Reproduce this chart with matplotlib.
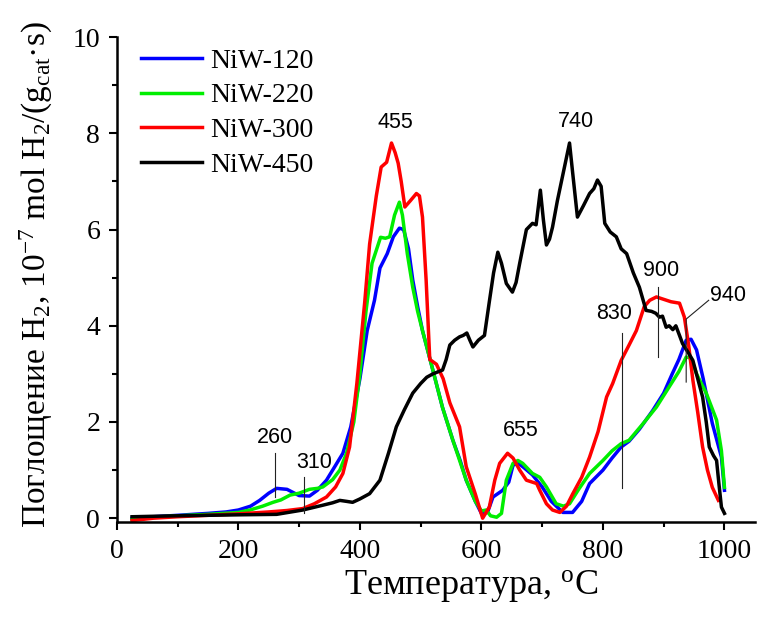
import matplotlib
matplotlib.use('Agg')
from matplotlib import pyplot as plt
from matplotlib.ticker import MultipleLocator

plt.rcParams['font.family'] = ['Liberation Serif', 'DejaVu Serif']
plt.rcParams['mathtext.fontset'] = 'custom'
plt.rcParams['mathtext.rm'] = 'Liberation Serif'
plt.rcParams['mathtext.it'] = 'Liberation Serif:italic'

# NiW-120
t_120 = [25, 60, 100, 150, 180, 200, 220, 235, 250, 263, 280, 300, 317, 330, 345, 360, 372, 385,
         400, 412, 424, 433, 445, 455, 465, 472, 480, 487, 495, 503, 518, 536, 553, 565, 575, 590,
         600, 610, 619, 635, 645, 652, 660, 670, 684, 700, 715, 734, 750, 765, 778, 800, 815, 830,
         843, 860, 882, 900, 914, 925, 937, 945, 954, 965, 980, 995, 1000]
v_120 = [0.0, 0.03, 0.06, 0.1, 0.13, 0.17, 0.25, 0.37, 0.52, 0.62, 0.6, 0.47, 0.46, 0.58, 0.79, 1.1,
         1.35, 1.9, 2.9, 3.9, 4.53, 5.2, 5.5, 5.85, 6.03, 6.0, 5.6, 4.95, 4.4, 3.9, 3.18, 2.3, 1.62,
         1.2, 0.79, 0.35, 0.1, 0.12, 0.44, 0.58, 0.75, 1.1, 1.15, 1.05, 0.9, 0.65, 0.35, 0.12, 0.12,
         0.35, 0.72, 1.0, 1.25, 1.48, 1.6, 1.85, 2.24, 2.6, 3.0, 3.3, 3.7, 3.72, 3.5, 2.9, 1.97,
         1.27, 0.58]

# NiW-220
t_220 = [25, 60, 100, 150, 200, 219, 240, 257, 270, 285, 300, 317, 330, 339, 355, 367, 378, 390,
         400, 410, 420, 434, 442, 449, 457, 465, 470, 478, 487, 495, 503, 518, 536, 553, 575, 590,
         600, 608, 615, 625, 633, 641, 652, 660, 668, 684, 696, 707, 723, 735, 745, 760, 778, 800,
         815, 830, 843, 865, 888, 910, 925, 937, 945, 954, 970, 987, 995, 1000]
v_220 = [-0.03, 0.02, 0.05, 0.08, 0.12, 0.17, 0.25, 0.33, 0.38, 0.48, 0.52, 0.6, 0.62, 0.65, 0.8,
         1.0, 1.35, 2.0, 3.0, 4.3, 5.3, 5.84, 5.82, 5.85, 6.3, 6.57, 6.3, 5.5, 4.8, 4.3, 3.9, 3.18,
         2.3, 1.62, 0.79, 0.35, 0.15, 0.17, 0.05, 0.02, 0.1, 0.79, 1.14, 1.2, 1.14, 0.93, 0.85,
         0.65, 0.3, 0.25, 0.3, 0.6, 0.93, 1.2, 1.4, 1.55, 1.62, 1.95, 2.31, 2.75, 3.05, 3.35, 3.33,
         3.0, 2.6, 2.04, 1.4, 0.64]

# NiW-300
t_300 = [25, 60, 100, 150, 200, 250, 280, 306, 325, 345, 360, 372, 383, 395, 408, 416, 427, 435,
         444, 452, 458, 463, 468, 474, 483, 493, 498, 503, 509, 515, 526, 537, 548, 564, 575, 590,
         602, 613, 622, 630, 643, 652, 663, 674, 691, 696, 707, 717, 729, 740, 750, 765, 778, 792,
         806, 816, 830, 843, 855, 868, 877, 888, 900, 912, 926, 934, 941, 948, 956, 964, 972, 980,
         990]
v_300 = [-0.05, 0.0, 0.03, 0.06, 0.09, 0.13, 0.16, 0.2, 0.3, 0.44, 0.65, 0.93, 1.48, 2.8, 4.5,
         5.7, 6.7, 7.3, 7.4, 7.8, 7.6, 7.38, 7.0, 6.47, 6.6, 6.75, 6.7, 6.26, 4.95, 3.3, 3.2, 2.9,
         2.4, 1.9, 1.07, 0.5, 0.0, 0.23, 0.79, 1.14, 1.35, 1.25, 1.0, 0.79, 0.72, 0.58, 0.3, 0.17,
         0.12, 0.25, 0.5, 0.85, 1.27, 1.8, 2.52, 2.8, 3.28, 3.6, 3.9, 4.4, 4.53, 4.6, 4.55, 4.5,
         4.47, 4.18, 3.6, 2.87, 2.2, 1.48, 1.0, 0.64, 0.37]

# NiW-450
t_450 = [25, 60, 100, 150, 200, 263, 306, 339, 355, 367, 378, 388, 400, 416, 433, 447, 460, 473,
         487, 500, 510, 520, 530, 536, 542, 548, 556, 564, 570, 576, 581, 586, 595, 605, 613, 620,
         627, 633, 641, 651, 657, 663, 674, 684, 690, 697, 702, 707, 712, 717, 725, 735, 745, 750,
         758, 768, 778, 785, 791, 797, 803, 812, 822, 830, 839, 850, 860, 871, 880, 887, 893, 898,
         904, 909, 915, 920, 926, 931, 940, 948, 956, 964, 970, 975, 982, 987, 991, 995, 1000]
v_450 = [0.03, 0.04, 0.05, 0.06, 0.07, 0.08, 0.17, 0.27, 0.32, 0.37, 0.35, 0.33, 0.4, 0.51, 0.79,
         1.35, 1.9, 2.25, 2.6, 2.8, 2.93, 3.0, 3.05, 3.08, 3.3, 3.6, 3.7, 3.77, 3.8, 3.85, 3.7,
         3.56, 3.7, 3.8, 4.5, 5.1, 5.53, 5.3, 4.88, 4.7, 4.9, 5.3, 6.0, 6.13, 6.1, 6.82, 6.2, 5.68,
         5.8, 6.05, 6.6, 7.2, 7.8, 7.2, 6.26, 6.5, 6.75, 6.85, 7.03, 6.9, 6.13, 5.95, 5.85, 5.6,
         5.5, 5.1, 4.8, 4.32, 4.3, 4.26, 4.18, 4.2, 3.97, 4.0, 3.92, 4.0, 3.8, 3.63, 3.45, 3.28,
         2.9, 2.52, 2.0, 1.48, 1.3, 1.2, 0.7, 0.23, 0.1]

series = [
    ('NiW-120', t_120, v_120, '#0000ff'),
    ('NiW-220', t_220, v_220, '#00ee00'),
    ('NiW-300', t_300, v_300, '#ff0000'),
    ('NiW-450', t_450, v_450, '#000000'),
]

# peak labels: text, (x, y) of text, guide line points
peak_labels = [
    ('260', (260, 1.68), [(260, 1.35), (260, 0.44)]),
    ('310', (324, 1.16), [(308, 0.85), (308, 0.1)]),
    ('455', (459, 8.23), None),
    ('655', (664, 1.83), None),
    ('740', (755, 8.25), None),
    ('830', (819, 4.26), [(831, 3.85), (831, 0.62)]),
    ('900', (896, 5.16), [(891, 4.8), (891, 3.35)]),
    ('940', (1005, 4.64), [(974, 4.53), (937, 4.14), (937, 2.83)]),
]

fig = plt.figure(figsize=(7.79, 6.2), dpi=100)
ax = fig.add_axes([0.150, 0.158, 0.819, 0.782])

for name, t, v, c in series:
    ax.plot(t, v, color=c, lw=2.5, label=name)

for txt, pos, pts in peak_labels:
    ax.text(pos[0], pos[1], txt, family=['Liberation Sans', 'DejaVu Sans'], fontsize=15.5,
            ha='center', va='center')
    if pts:
        ax.plot([p[0] for p in pts], [p[1] for p in pts], color='#222222', lw=0.8)

ax.set_xlim(0, 1050)
ax.set_ylim(-0.08, 10)
ax.xaxis.set_major_locator(MultipleLocator(200))
ax.xaxis.set_minor_locator(MultipleLocator(100))
ax.yaxis.set_major_locator(MultipleLocator(2))
ax.yaxis.set_minor_locator(MultipleLocator(1))
ax.tick_params(which='major', direction='out', length=6, width=1.5, labelsize=20, pad=6)
ax.tick_params(which='minor', direction='out', length=3.5, width=1.5)
for s in ['top', 'right']:
    ax.spines[s].set_visible(False)
for s in ['left', 'bottom']:
    ax.spines[s].set_linewidth(1.8)

ax.set_xlabel('Температура, $^{\\rm o}$C', fontsize=26)
ax.xaxis.set_label_coords(0.555, -0.095)
ax.set_ylabel('Поглощение H$_2$, 10$^{-7}$ mol H$_2$/(g$_{\\rm cat}$·s)', fontsize=24)
ax.yaxis.set_label_coords(-0.097, 0.51)

ax.legend(loc='upper left', bbox_to_anchor=(0.02, 1.0), frameon=False, fontsize=20,
          handlelength=2.2, handletextpad=0.3, labelspacing=0.33, borderaxespad=0)

fig.savefig('out.png', dpi=100)
